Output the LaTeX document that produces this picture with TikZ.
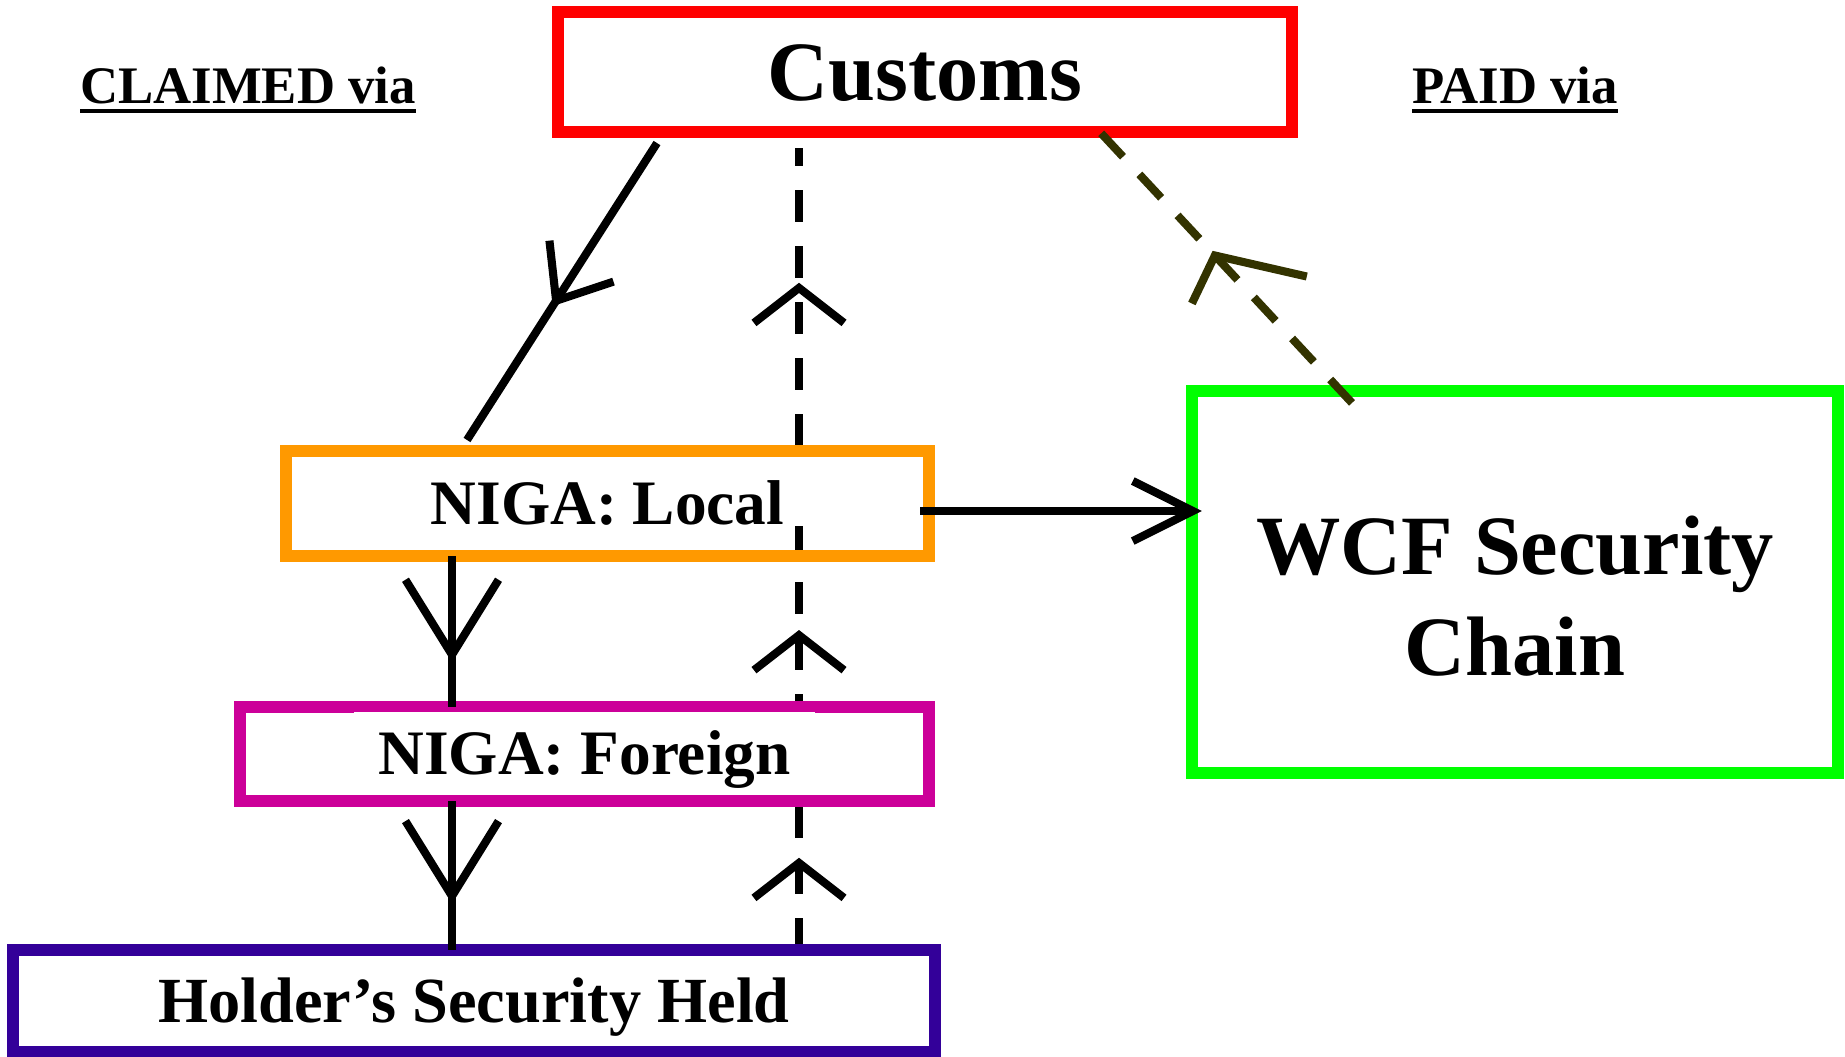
\documentclass[tikz,border=0pt]{standalone}
\usepackage{fontspec}
\setmainfont{Liberation Serif}
\usetikzlibrary{arrows.meta,decorations.markings,calc}
\pgfdeclarelayer{back}
\pgfsetlayers{back,main}
\definecolor{custred}{HTML}{FF0000}
\definecolor{localorange}{HTML}{FF9900}
\definecolor{foreignpink}{HTML}{CC0099}
\definecolor{holderblue}{HTML}{330099}
\definecolor{wcfgreen}{HTML}{00FF00}
\definecolor{paidolive}{HTML}{333300}
\newlength\ulwidth
\newcommand{\headul}[1]{\settowidth\ulwidth{#1}#1\llap{\rule[-0.10cm]{\ulwidth}{0.04cm}}}
\newcommand{\knockout}[2]{{\fboxsep=0pt\colorbox{white}{\rule[-#2]{0pt}{\dimexpr 1em+#2\relax}\hspace{0.24cm}#1\hspace{0.24cm}}}}
\begin{document}
\begin{tikzpicture}[x=0.01cm,y=-0.01cm,
	box/.style={draw,line width=3.4pt,inner sep=0pt,outer sep=0pt},
	head/.style={font=\bfseries\fontsize{15}{18}\selectfont,inner sep=0pt,anchor=base},
	claimline/.style={line width=2.3pt},
	backline/.style={line width=2.3pt,dash pattern=on 0.32cm off 0.24cm},
	paidline/.style={line width=2.3pt,paidolive,dash pattern=on 0.32cm off 0.24cm},
	barbat/.style 2 args={postaction={decorate},decoration={markings,mark=at position #1 with {\arrow{#2}}}},
	slimbarb/.tip={Straight Barb[length=0.47cm,width=0.76cm,sharp]},
	fatbarb/.tip={Straight Barb[length=0.75cm,width=0.93cm,sharp]},
	flatbarb/.tip={Straight Barb[length=0.35cm,width=0.9cm,sharp]},
	sidebarb/.tip={Straight Barb[length=0.6cm,width=0.6cm,sharp]}]
	\useasboundingbox (0,0) rectangle (1845,1056);
	\node[box,draw=custred,minimum width=7.34cm,minimum height=1.2cm,
		font=\bfseries\fontsize{24}{28.5}\selectfont,text height=16pt,text depth=0pt] (customs) at (925,72) {Customs};
	\node[box,draw=localorange,minimum width=6.43cm,minimum height=1.05cm,
		font=\bfseries\fontsize{18}{21.5}\selectfont,text height=11.9pt,text depth=0pt] (local) at (607.5,503.5) {\knockout{NIGA: Local}{0em}};
	\node[box,draw=foreignpink,minimum width=6.89cm,minimum height=0.94cm,
		font=\bfseries\fontsize{18}{21.5}\selectfont,text height=11.9pt,text depth=0pt] (foreign) at (584.5,754) {\knockout{NIGA: Foreign}{0.25em}};
	\node[box,draw=holderblue,minimum width=9.22cm,minimum height=1.02cm,
		font=\bfseries\fontsize{18.3}{21.5}\selectfont,text height=12.1pt,text depth=0pt] (holder) at (474,1001) {Holder’s Security Held};
	\node[box,draw=wcfgreen,minimum width=6.46cm,minimum height=3.82cm,
		font=\bfseries\fontsize{24}{28.5}\selectfont,text height=1.86cm,text depth=0pt] (wcf) at (1515,582) {\begin{tabular}[b]{@{}c@{}}WCF Security\\Chain\end{tabular}};
	\node[head] (claimed) at (248,103) {\headul{CLAIMED via}};
	\node[head] (paid) at (1515,103) {\headul{PAID via}};
	\coordinate (solidx) at (452,0);
	\coordinate (dashx) at (799,0);
	\begin{pgfonlayer}{back}
	\draw[backline,postaction={decorate},decoration={markings,
		mark=at position 0.115 with {\arrow{flatbarb}},
		mark=at position 0.399 with {\arrow{flatbarb}},
		mark=at position 0.832 with {\arrow{flatbarb}}}]
		(holder.north -| dashx) -- ($(customs.south -| dashx)+(0,16)$);
	\end{pgfonlayer}
	\draw[claimline,barbat={0.55}{slimbarb}] ($(customs.south)+(-268,11)$) -- ($(local.north)+(-140.5,-11)$);
	\draw[claimline,barbat={0.705}{fatbarb}] (local.south -| solidx) -- (foreign.north -| solidx);
	\draw[claimline,barbat={0.69}{fatbarb}] (foreign.south -| solidx) -- (holder.north -| solidx);
	\draw[claimline,-sidebarb] ($(local.east)+(-9,7.5)$) -- ($(local.east -| wcf.west)+(10,7.5)$);
	\draw[paidline,postaction={decorate},decoration={markings,
		mark=at position 0.546 with {\draw[solid,line width=2.3pt,paidolive,miter limit=20] (-19.5,-49.5) -- (0,0) -- (-78,53);}}]
		($(wcf.north)+(-163,12)$) -- ($(customs.south)+(175,0)$);
\end{tikzpicture}
\end{document}
